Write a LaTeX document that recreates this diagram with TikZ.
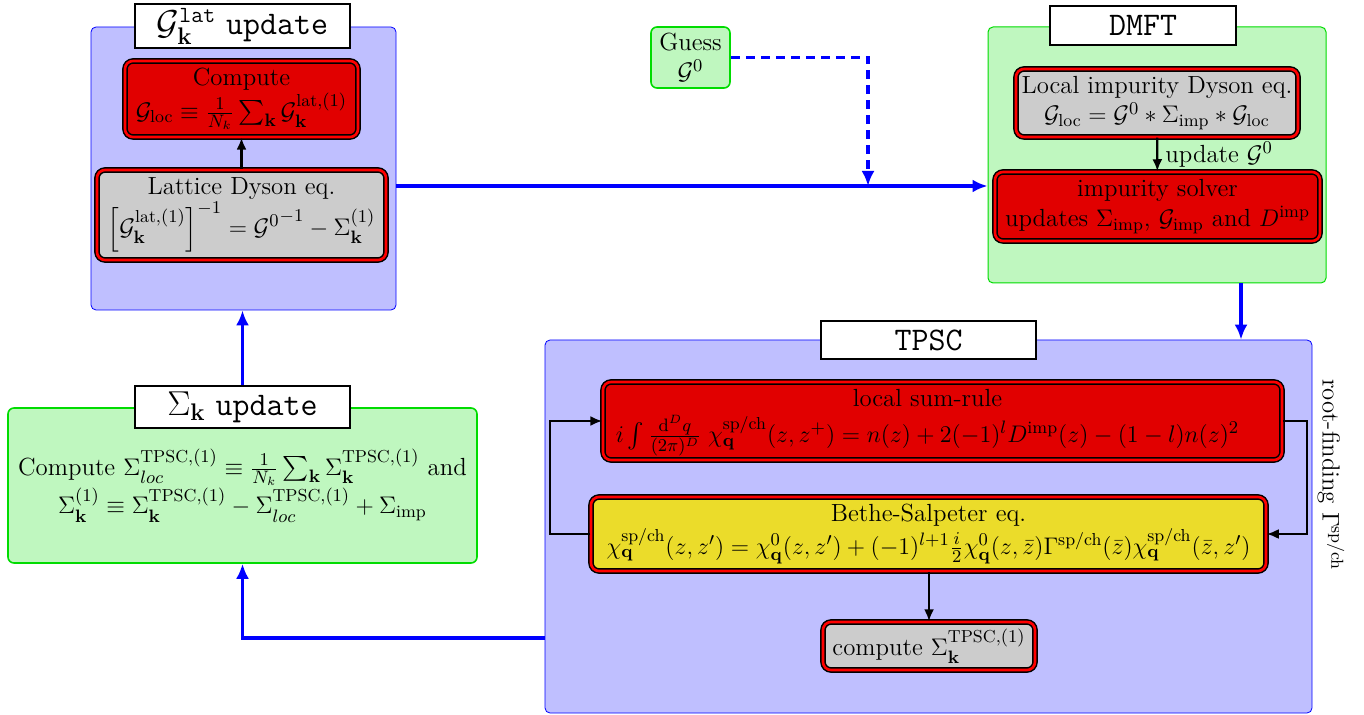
\documentclass[tikz,border=0pt]{standalone}
\usepackage{amsmath,amssymb}
\usetikzlibrary{arrows.meta,calc}
\definecolor{bfill}{RGB}{191,191,255}
\definecolor{gfill}{RGB}{191,247,191}
\definecolor{gline}{RGB}{0,220,0}
\definecolor{rfill}{RGB}{225,0,0}
\definecolor{yfill}{RGB}{235,220,42}
\definecolor{grfill}{RGB}{204,204,204}
\begin{document}
\begin{tikzpicture}[x=0.5pt,y=-0.5pt,
  every node/.style={font=\fontsize{12.4}{14.8}\selectfont},
  bluebox/.style={draw=blue,fill=bfill,rounded corners=2.5pt,line width=0.4pt,inner sep=0pt},
  greenbox/.style={draw=gline,fill=gfill,rounded corners=3pt,line width=0.8pt,inner sep=0pt},
  titlebox/.style={draw=black,fill=white,line width=0.6pt,inner sep=0pt,font=\fontsize{16.5}{19}\selectfont},
  stepbox/.style={draw=black,double=red,double distance=1.3pt,line width=0.75pt,rounded corners=4pt,align=center,inner sep=1pt},
  flow/.style={draw=blue,line width=1.8pt,-{Latex[length=7.5pt,width=6.5pt]}},
  blk/.style={draw=black,line width=1.1pt,-{Latex[length=6pt,width=5pt]}}]
\useasboundingbox (0,0) rectangle (1364,715);
% left top block
\node[bluebox,minimum width=152.5pt,minimum height=141.5pt] (lbox) at (243.5,168.5) {};
\node[titlebox,minimum width=107.5pt,minimum height=22pt] (ltitle) at (242.5,26) {$\mathcal{G}_{\mathbf{k}}^{\texttt{lat}}$ \texttt{update}};
\node[stepbox,fill=rfill,minimum width=116.5pt,minimum height=38pt] (comp) at (241.5,99) {Compute\\$\mathcal{G}_{\text{loc}}\equiv\frac{1}{N_k}\sum_{\mathbf{k}}\mathcal{G}_{\mathbf{k}}^{\text{lat},(1)}$};
\node[stepbox,fill=grfill,minimum width=144.5pt,minimum height=45pt] (latt) at (241.5,215) {Lattice Dyson eq.\\$\left[\mathcal{G}_{\mathbf{k}}^{\text{lat},(1)}\right]^{-1}={\mathcal{G}^{0}}^{-1}-\Sigma_{\mathbf{k}}^{(1)}$};
\draw[blk] (latt) -- (comp);
% guess
\node[greenbox,minimum width=39.5pt,minimum height=30.5pt,align=center] (guess) at (690.5,57.5) {Guess\\$\mathcal{G}^{0}$};
% DMFT block
\node[greenbox,line width=0.5pt,rounded corners=2.5pt,minimum width=169pt,minimum height=128pt] (dbox) at (1157,155) {};
\node[titlebox,minimum width=93pt,minimum height=19.5pt] (dtitle) at (1143,25.5) {\texttt{DMFT}};
\node[stepbox,fill=grfill,minimum width=141pt,minimum height=34pt] (limp) at (1157,103) {Local impurity Dyson eq.\\$\mathcal{G}_{\text{loc}}=\mathcal{G}^{0}\ast\Sigma_{\text{imp}}\ast\mathcal{G}_{\text{loc}}$};
\node[stepbox,fill=rfill,minimum width=162.5pt,minimum height=34.5pt] (solv) at (1157.5,206.5) {impurity solver\\updates $\Sigma_{\text{imp}}$, $\mathcal{G}_{\text{imp}}$ and $D^{\text{imp}}$};
\draw[blk] (limp) -- node[right=2.5pt,inner sep=1pt] {update $\mathcal{G}^{0}$} (solv);
% TPSC block
\node[bluebox,minimum width=383.5pt,minimum height=186.5pt] (tbox) at (928.5,526.5) {};
\node[titlebox,minimum width=107.5pt,minimum height=19pt] (ttitle) at (928.5,340) {\texttt{TPSC}};
\node[stepbox,fill=rfill,minimum width=339.5pt,minimum height=39pt] (sumr) at (942.5,421) {\begin{tabular}{@{}c@{}}local sum-rule\\$i\int\frac{\mathrm{d}^Dq}{(2\pi)^D}\;\chi_{\mathbf{q}}^{\text{sp/ch}}(z,z^{+})=n(z)+2(-1)^{l}D^{\text{imp}}(z)-(1-l)n(z)^2$\end{tabular}\hspace*{15pt}};
\node[stepbox,fill=yfill,minimum width=337.5pt,minimum height=37pt] (bse) at (928.5,534) {Bethe-Salpeter eq.\\$\chi_{\mathbf{q}}^{\text{sp/ch}}(z,z')=\chi_{\mathbf{q}}^{0}(z,z')+(-1)^{l+1}\frac{i}{2}\chi_{\mathbf{q}}^{0}(z,\bar z)\Gamma^{\text{sp/ch}}(\bar z)\chi_{\mathbf{q}}^{\text{sp/ch}}(\bar z,z')$};
\node[stepbox,fill=grfill,minimum width=106pt,minimum height=24pt] (csig) at (929,646) {compute $\Sigma_{\mathbf{k}}^{\text{TPSC},(1)}$};
\coordinate (lx) at (550,0);
\coordinate (rx) at (1307,0);
\draw[blk] (bse.west) -- (bse.west -| lx) |- (sumr.west);
\draw[blk] (sumr.east) -- (sumr.east -| rx) |- (bse.east);
\draw[blk] (bse.south -| csig.north) -- (csig.north);
\node[rotate=-90] (root) at (1331,475) {root-finding $\Gamma^{\text{sp/ch}}$};
% Sigma update block
\node[greenbox,minimum width=234.5pt,minimum height=77.5pt,align=center] (sbox) at (242.5,485.5) {Compute $\Sigma_{loc}^{\text{TPSC},(1)}\equiv\frac{1}{N_k}\sum_{\mathbf{k}}\Sigma_{\mathbf{k}}^{\text{TPSC},(1)}$ and\\$\Sigma_{\mathbf{k}}^{(1)}\equiv\Sigma_{\mathbf{k}}^{\text{TPSC},(1)}-\Sigma_{loc}^{\text{TPSC},(1)}+\Sigma_{\text{imp}}$};
\node[titlebox,minimum width=107.5pt,minimum height=21pt] (stitle) at (242.5,407) {$\Sigma_{\mathbf{k}}$ \texttt{update}};
% flow connectors
\coordinate (j) at (868,186);
\coordinate (dt) at (1241,0);
\coordinate (b) at (241,638);
\draw[flow] (lbox.east |- j) -- (dbox.west |- j);
\draw[flow,dash pattern=on 4.5pt off 3pt] (guess.east) -- (j |- guess.east) -- (j);
\draw[flow] (dt |- dbox.south) -- (dt |- tbox.north);
\draw[flow] (tbox.west |- b) -| (sbox.south);
\draw[flow] (stitle.north) -- (stitle.north |- lbox.south);
\end{tikzpicture}
\end{document}
